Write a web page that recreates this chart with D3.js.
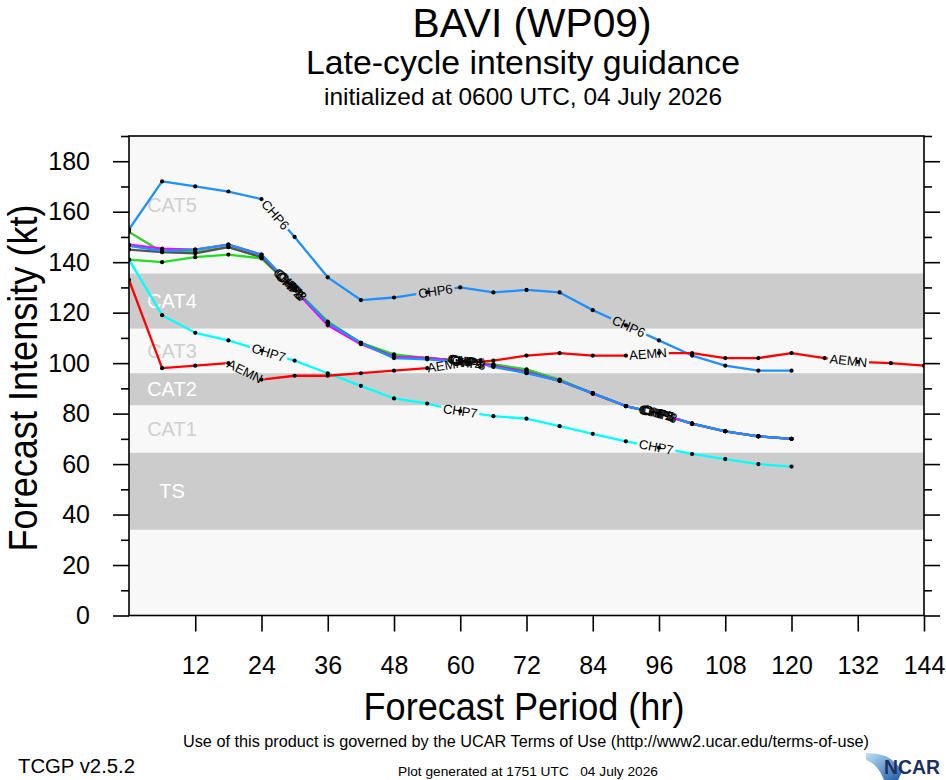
<!DOCTYPE html>
<html><head><meta charset="utf-8">
<script src="https://cdn.jsdelivr.net/npm/d3@7/dist/d3.min.js"></script>
<style>
body{margin:0;background:#fff}
svg{display:block}
text{font-family:"Liberation Sans",Arial,Helvetica,sans-serif}
</style>
</head><body>
<svg id="c" width="946" height="780"></svg>
<script>
// ---------------- data ----------------
const hours = [0,6,12,18,24,30,36,42,48,54,60,66,72,78,84,90,96,102,108,114,120,126,132,138,144];

const chp1 = [145,144,143.5,146,142,129,116,108,102.5,102,101,99,96.5,93,88,83,80,76,73,71,70];
const chp2 = [147,145.4,145,147,143,129,115,107.5,102.5,102,101,98.8,96.3,93,88,83,80,76,73,71,70];
const chp3 = [146.5,144.5,145,147,143,129.5,116,108,102,101.5,100.5,98.5,96,93,88,83,80,76,73,71,70];
const chp4 = [152,144,144,146,142,129.5,116.5,108,103.5,102,101,99.5,97.5,93.5,88,83,80,76,73,71,70];
const chp5 = [141,140,142,143,141.5,129,116,108,103,102,101,99.5,97.3,93.3,88,83,80,76,73,71,70];
const chp6 = [153,172,170,168,165,150,134,125,126,128,130,128,129,128,121,115,109,103,99,97,97];
const chp7 = [141,119,112,109,105,101,96,91,86,84,81,79,78,75,72,69,66.5,64,62,60,59];
const aemn = [133,98,99,100,93.5,95,95,96,97,98,100,101,103,104,103,103,104,104,102,102,104,102,100.5,100,99];

// hours at which the in-line labels sit
const chp1Labels = [29.3,61.2,95.8];
const chp2Labels = [29.0,60.8,95.4];
const chp3Labels = [29.6,61.5,96.2];
const chp4Labels = [28.8,61.0,96.0];
const chp5Labels = [29.2,61.3,95.6];
const chp6Labels = [26.5,55.5,90.5];
const chp7Labels = [25.3,60.0,95.5];
const aemnLabels = [21.0,57.4,94.0,130.3];

// intensity categories (kt)
const bandNames = ["TS","CAT1","CAT2","CAT3","CAT4","CAT5"];
const bandLo    = [34,64.5,83.3,96,113.7,135.5];
const bandHi    = [64.5,83.3,96,113.7,135.5,190];

const yMajor = [0,20,40,60,80,100,120,140,160,180];
const yMinor = [10,30,50,70,90,110,130,150,170,190];
const xTicks = [12,24,36,48,60,72,84,96,108,120,132,144];

// ---------------- styles ----------------
const colors = {CHP1:"#555555",CHP2:"#ff00ff",CHP3:"#1e90ff",CHP4:"#32cd32",CHP5:"#22dd22",
                CHP6:"#1e90ff",CHP7:"#00ffff",AEMN:"#ff0000"};

const series = [
  {name:"CHP5",v:chp5,lab:chp5Labels},
  {name:"CHP4",v:chp4,lab:chp4Labels},
  {name:"CHP1",v:chp1,lab:chp1Labels},
  {name:"CHP2",v:chp2,lab:chp2Labels},
  {name:"CHP3",v:chp3,lab:chp3Labels},
  {name:"CHP6",v:chp6,lab:chp6Labels},
  {name:"CHP7",v:chp7,lab:chp7Labels},
  {name:"AEMN",v:aemn,lab:aemnLabels}
];

const W=946,H=780;
const svg=d3.select("#c");
const x=d3.scaleLinear().domain([0,144]).range([129,924]);
const y=d3.scaleLinear().domain([0,190]).range([615.5,136]);
const defs=svg.append("defs");
defs.append("clipPath").attr("id","pc").append("rect")
  .attr("x",x(0)).attr("y",y(190)).attr("width",x(144)-x(0)).attr("height",y(0)-y(190));

// background
svg.append("rect").attr("width",W).attr("height",H).attr("fill","#fff");
svg.append("rect").attr("x",x(0)).attr("y",y(190)).attr("width",x(144)-x(0)).attr("height",y(0)-y(190)).attr("fill","#f8f8f8");

// bands
bandNames.forEach((n,i)=>{
  const shaded = i%2===0;
  if(shaded){
    svg.append("rect").attr("x",x(0)).attr("width",x(144)-x(0))
      .attr("y",y(bandHi[i])).attr("height",y(bandLo[i])-y(bandHi[i])).attr("fill","#cccccc");
  }
  svg.append("text").attr("x",172).attr("y",(y(bandHi[i])+y(bandLo[i]))/2)
    .attr("text-anchor","middle").attr("dominant-baseline","central")
    .attr("font-size",20).attr("fill",shaded?"#ffffff":"#cfcfcf").text(n);
});

// label positions
const meas = svg.append("text").attr("font-size",13).attr("visibility","hidden");
series.forEach(s=>{
  meas.text(s.name);
  const tw = meas.node().getComputedTextLength();
  s.lp = s.lab.map(h=>{
    let i = d3.bisectRight(hours,h)-1;
    if(i>=s.v.length-1) i=s.v.length-2;
    const x0=x(hours[i]),y0=y(s.v[i]),x1=x(hours[i+1]),y1=y(s.v[i+1]);
    const t=(h-hours[i])/(hours[i+1]-hours[i]);
    return {x:x0+(x1-x0)*t, y:y0+(y1-y0)*t, a:Math.atan2(y1-y0,x1-x0)*180/Math.PI, w:tw};
  });
});
meas.remove();

// masks (gaps where labels sit)
series.forEach((s,si)=>{
  const m=defs.append("mask").attr("id","m"+si).attr("maskUnits","userSpaceOnUse")
    .attr("x",0).attr("y",0).attr("width",W).attr("height",H);
  m.append("rect").attr("width",W).attr("height",H).attr("fill","#fff");
  s.lp.forEach(p=>{
    m.append("rect").attr("x",-p.w/2-2).attr("y",-7).attr("width",p.w+4).attr("height",14)
      .attr("fill","#000").attr("transform",`translate(${p.x},${p.y}) rotate(${p.a})`);
  });
});

// lines
const line=d3.line().x((d,i)=>x(hours[i])).y(d=>y(d));
const gl=svg.append("g").attr("clip-path","url(#pc)");
series.forEach((s,si)=>{
  gl.append("path").datum(s.v).attr("d",line).attr("fill","none")
    .attr("stroke",colors[s.name]).attr("stroke-width",2.3).attr("stroke-linejoin","round")
    .attr("mask","url(#m"+si+")");
});
// dots
series.forEach(s=>{
  gl.selectAll(null).data(s.v).enter().append("circle")
    .attr("cx",(d,i)=>x(hours[i])).attr("cy",d=>y(d)).attr("r",2.1).attr("fill","#000");
});
// labels
series.forEach(s=>{
  s.lp.forEach(p=>{
    svg.append("text").attr("transform",`translate(${p.x},${p.y}) rotate(${p.a})`)
      .attr("text-anchor","middle").attr("dominant-baseline","central")
      .attr("font-size",13).attr("fill","#000").text(s.name);
  });
});

// frame
svg.append("rect").attr("x",x(0)).attr("y",y(190)).attr("width",x(144)-x(0)).attr("height",y(0)-y(190))
  .attr("fill","none").attr("stroke","#000").attr("stroke-width",1.6);

// axes
function styleAxis(g){
  g.select(".domain").remove();
  g.selectAll("line").attr("stroke","#000").attr("stroke-width",1.6);
  g.selectAll("text").attr("font-size",25).attr("fill","#000")
   .attr("font-family",'"Liberation Sans",Arial,sans-serif');
}
svg.append("g").attr("transform",`translate(${x(0)},0)`)
  .call(d3.axisLeft(y).tickValues(yMajor).tickSize(16).tickPadding(23).tickFormat(d3.format("d"))).call(styleAxis);
svg.append("g").attr("transform",`translate(${x(0)},0)`)
  .call(d3.axisLeft(y).tickValues(yMinor).tickSize(8).tickFormat("")).call(styleAxis);
svg.append("g").attr("transform",`translate(${x(144)},0)`)
  .call(d3.axisRight(y).tickValues(yMajor).tickSize(16).tickFormat("")).call(styleAxis);
svg.append("g").attr("transform",`translate(${x(144)},0)`)
  .call(d3.axisRight(y).tickValues(yMinor).tickSize(8).tickFormat("")).call(styleAxis);
svg.append("g").attr("transform",`translate(0,${y(0)})`)
  .call(d3.axisBottom(x).tickValues(xTicks).tickSize(16).tickPadding(25).tickFormat(d3.format("d"))).call(styleAxis);

// titles
function txt(t,xx,yy,fs,len){
  const e=svg.append("text").attr("x",xx).attr("y",yy).attr("font-size",fs)
    .attr("text-anchor","middle").attr("fill","#000").text(t);
  if(len) e.attr("textLength",len).attr("lengthAdjust","spacingAndGlyphs");
  return e;
}
txt("BAVI (WP09)",532,37,40,239);
txt("Late-cycle intensity guidance",523,74,34,434);
txt("initialized at 0600 UTC, 04 July 2026",523,105,24,398);
txt("Forecast Period (hr)",524,720,38,321);
svg.append("text").attr("transform","translate(37,378) rotate(-90)").attr("text-anchor","middle")
  .attr("font-size",40).attr("textLength",347).attr("lengthAdjust","spacingAndGlyphs").text("Forecast Intensity (kt)");
txt("Use of this product is governed by the UCAR Terms of Use (http://www2.ucar.edu/terms-of-use)",526,747,16,686);
svg.append("text").attr("x",18).attr("y",773).attr("font-size",20).attr("textLength",117)
  .attr("lengthAdjust","spacingAndGlyphs").text("TCGP v2.5.2");
txt("Plot generated at 1751 UTC   04 July 2026",528,776,13,260).style("white-space","pre");

// NCAR logo
const lg=defs.append("linearGradient").attr("id","ncg").attr("x1","0").attr("y1","0").attr("x2","1").attr("y2","1");
lg.append("stop").attr("offset","0").attr("stop-color","#bfe3f7");
lg.append("stop").attr("offset","1").attr("stop-color","#1c5aa8");
svg.append("path").attr("d","M866,753 Q892,752 902,772 L898,780 L884,780 Q878,764 866,760 Z").attr("fill","url(#ncg)");
svg.append("text").attr("x",884).attr("y",774).attr("font-size",20).attr("font-weight","bold")
  .attr("fill","#1f2f5f").attr("textLength",56).attr("lengthAdjust","spacingAndGlyphs").text("NCAR");
</script>
</body></html>
